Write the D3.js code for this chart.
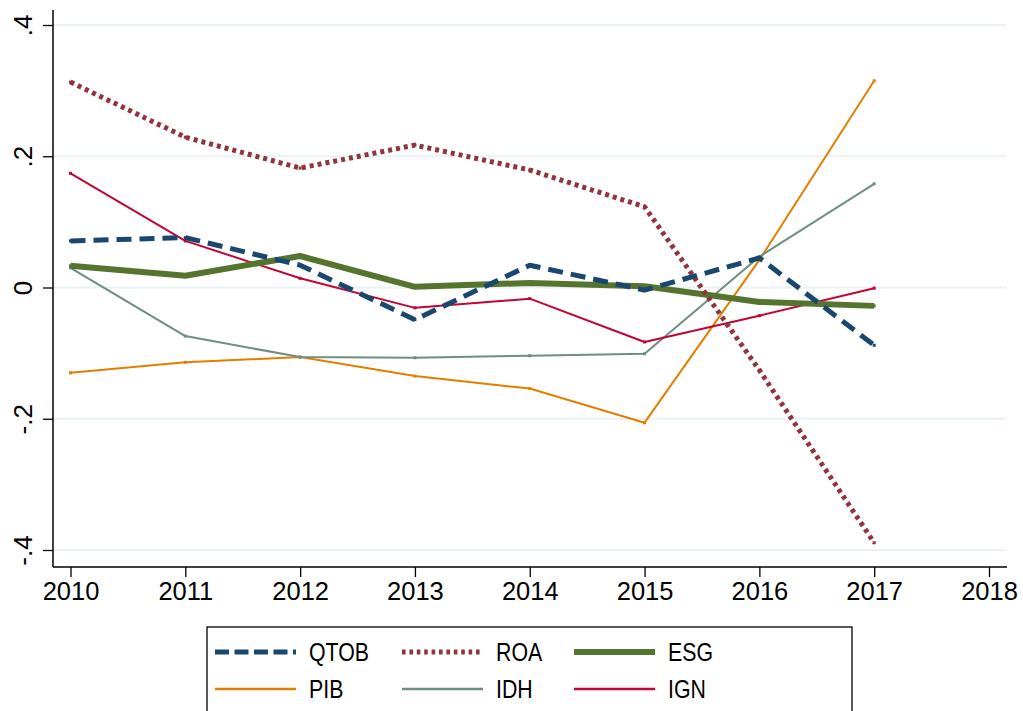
<!DOCTYPE html>
<html><head><meta charset="utf-8">
<script src="https://cdn.jsdelivr.net/npm/d3@7"></script>
<style>body{margin:0;background:#fff}svg{display:block}</style>
</head><body>
<div id="chart"></div>
<script>
const years = [2010, 2011, 2012, 2013, 2014, 2015, 2016, 2017];
const xTicks = [2010, 2011, 2012, 2013, 2014, 2015, 2016, 2017, 2018];
const yTicks = [-0.4, -0.2, 0, 0.2, 0.4];
const yTickLabels = ["-.4", "-.2", "0", ".2", ".4"];
const seriesNames = ["QTOB", "ROA", "ESG", "PIB", "IDH", "IGN"];
const QTOB = [0.071, 0.076, 0.034, -0.049, 0.034, -0.004, 0.045, -0.088];
const ROA  = [0.313, 0.229, 0.182, 0.217, 0.179, 0.123, -0.126, -0.389];
const ESG  = [0.033, 0.018, 0.048, 0.001, 0.007, 0.002, -0.022, -0.028];
const PIB  = [-0.130, -0.114, -0.106, -0.135, -0.154, -0.206, 0.042, 0.315];
const IDH  = [0.030, -0.074, -0.106, -0.107, -0.104, -0.101, 0.047, 0.158];
const IGN  = [0.174, 0.071, 0.014, -0.031, -0.017, -0.083, -0.043, -0.001];
const seriesValues = [QTOB, ROA, ESG, PIB, IDH, IGN];

const styles = {
  QTOB: {color: "#1a476f", width: 5, dash: "15,8"},
  ROA:  {color: "#90353b", width: 5, dash: "4,4"},
  ESG:  {color: "#55752f", width: 6, dash: null},
  PIB:  {color: "#e37e00", width: 2, dash: null},
  IDH:  {color: "#6e8e84", width: 2, dash: null},
  IGN:  {color: "#c10534", width: 2, dash: null}
};

const W = 1023, H = 711;
const FONT = "'Liberation Sans', Arial, Helvetica, sans-serif";
const svg = d3.select("#chart").append("svg").attr("width", W).attr("height", H);

const x = d3.scaleLinear().domain([2010, 2018]).range([70.5, 989]);
const y = d3.scaleLinear().domain([-0.4, 0.4]).range([550, 25]);
const plotLeft = 53, plotRight = 1007, plotBottom = 567, plotTop = 10;

// gridlines
svg.append("g").selectAll("line").data(yTicks).join("line")
  .attr("x1", plotLeft).attr("x2", plotRight)
  .attr("y1", d => y(d)).attr("y2", d => y(d))
  .attr("stroke", "#eaf2f3").attr("stroke-width", 2);

// y axis
const yAxis = d3.axisLeft(y).tickValues(yTicks).tickSize(10).tickPadding(0)
  .tickFormat((d, i) => yTickLabels[i]);
const gy = svg.append("g").attr("transform", `translate(${plotLeft},0)`).call(yAxis);
gy.select(".domain").remove();
gy.selectAll(".tick line").attr("stroke", "#000").attr("stroke-width", 1.3);
gy.selectAll(".tick text").remove();
gy.selectAll(".tick").append("text")
  .attr("transform", "translate(-21,0) rotate(-90)")
  .attr("text-anchor", "middle")
  .attr("fill", "#000")
  .style("font-family", FONT)
  .style("font-size", "26px")
  .text((d, i) => yTickLabels[i]);
svg.append("line").attr("x1", plotLeft).attr("x2", plotLeft)
  .attr("y1", plotTop).attr("y2", plotBottom).attr("stroke", "#000").attr("stroke-width", 1.5);

// x axis
const xAxis = d3.axisBottom(x).tickValues(xTicks).tickSize(10).tickPadding(5).tickFormat(d3.format("d"));
const gx = svg.append("g").attr("transform", `translate(0,${plotBottom})`).call(xAxis);
gx.select(".domain").remove();
gx.selectAll(".tick line").attr("stroke", "#000").attr("stroke-width", 1.3);
gx.selectAll(".tick text").attr("fill", "#000")
  .style("font-family", FONT)
  .style("font-size", "25.5px");
svg.append("line").attr("x1", plotLeft).attr("x2", plotRight)
  .attr("y1", plotBottom).attr("y2", plotBottom).attr("stroke", "#000").attr("stroke-width", 1.5);

// lines
const line = d3.line().x((d, i) => x(years[i])).y(d => y(d));
const drawOrder = ["PIB", "IDH", "IGN", "ESG", "ROA", "QTOB"];
drawOrder.forEach(name => {
  const vals = seriesValues[seriesNames.indexOf(name)];
  const s = styles[name];
  const p = svg.append("path").datum(vals).attr("d", line)
    .attr("fill", "none").attr("stroke", s.color).attr("stroke-width", s.width)
    .attr("stroke-linejoin", "round");
  if (s.dash) p.attr("stroke-dasharray", s.dash);
  svg.append("g").selectAll("rect").data(vals).join("rect")
    .attr("x", (d, i) => x(years[i]) - 1.5).attr("y", d => y(d) - 1.5)
    .attr("width", 3).attr("height", 3).attr("fill", s.color);
});

// legend
const lg = svg.append("g");
lg.append("rect").attr("x", 207).attr("y", 627).attr("width", 645).attr("height", 100)
  .attr("fill", "#fff").attr("stroke", "#000").attr("stroke-width", 1.3);
const colX = [215, 402, 574];
const rowY = [652, 689];
seriesNames.forEach((name, i) => {
  const cx = colX[i % 3], cy = rowY[Math.floor(i / 3)];
  const s = styles[name];
  const l = lg.append("line").attr("x1", cx).attr("x2", cx + 81).attr("y1", cy).attr("y2", cy)
    .attr("stroke", s.color).attr("stroke-width", s.width === 2 ? 2.5 : s.width);
  if (s.dash) l.attr("stroke-dasharray", name === "ROA" ? "3.6,3.8" : "14,5.5");
  lg.append("text")
    .attr("transform", `translate(${cx + 94},${cy + 9}) scale(0.82,1)`)
    .attr("fill", "#000")
    .style("font-family", FONT)
    .style("font-size", "26px")
    .text(name);
});
</script>
</body></html>
